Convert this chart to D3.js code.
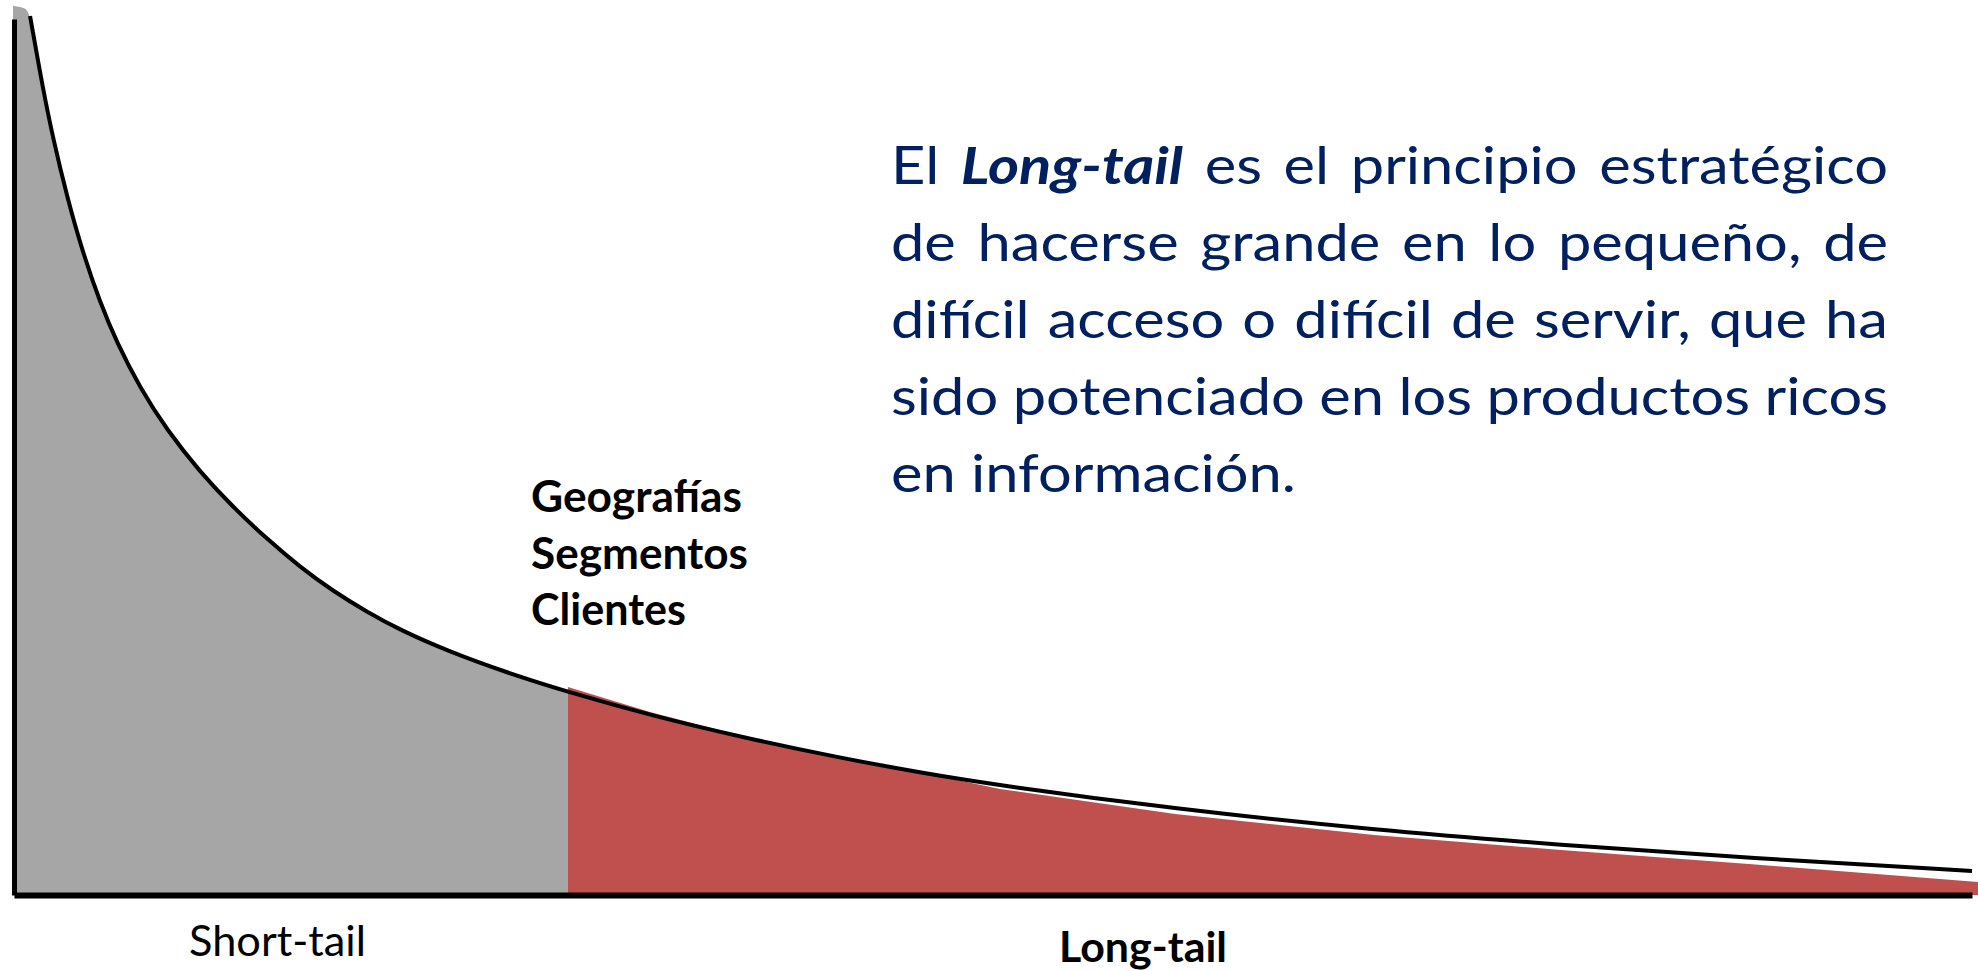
<!DOCTYPE html>
<html>
<head>
<meta charset="utf-8">
<script src="https://cdn.jsdelivr.net/npm/d3@7"></script>
<style>
html, body { margin: 0; padding: 0; background: #fff; }
svg { display: block; }
</style>
</head>
<body>
<div id="chart"></div>
<script>
// demand curve: product rank (0-100) vs sales (0-100)
var curveRank  = [0.82, 1.48, 1.99, 2.71, 3.52, 4.39, 5.26, 6.44, 7.81, 9.50, 11.18, 12.92, 14.61, 16.29, 18.03, 19.71, 22.27, 25.08, 28.29, 32.84, 37.38, 41.98, 46.53, 50.36, 59.30, 69.46, 79.01, 88.61, 100];
var curveSales = [100.34, 92.01, 86.42, 79.68, 73.29, 67.69, 63.01, 57.88, 53.08, 48.29, 44.29, 40.64, 37.44, 34.70, 32.31, 30.25, 27.74, 25.46, 23.17, 20.32, 17.92, 15.75, 13.87, 12.50, 9.82, 7.42, 5.71, 4.22, 2.74];

// grey "short-tail" fill
var shortRank  = [-0.05, 0.66, 0.82, 1.48, 1.99, 2.71, 3.52, 4.39, 5.26, 6.44, 7.81, 9.50, 11.18, 12.92, 14.61, 16.29, 18.03, 19.71, 22.27, 25.08, 28.29];
var shortSales = [101.5, 101.3, 100.34, 92.01, 86.42, 79.68, 73.29, 67.69, 63.01, 57.88, 53.08, 48.29, 44.29, 40.64, 37.44, 34.70, 32.31, 30.25, 27.74, 25.46, 23.17];

// red "long-tail" fill
var longRank  = [28.29, 32.48, 37.38, 41.98, 46.94, 50.36, 59.30, 69.46, 79.01, 88.61, 100.31];
var longSales = [23.74, 20.89, 18.04, 15.75, 13.70, 12.10, 9.25, 6.85, 5.14, 3.54, 1.48];

var tailLabels = ["Short-tail", "Long-tail"];
var segmentLabels = ["Geografías", "Segmentos", "Clientes"];
var paraLines = [
    [["El ", false], ["Long-tail", true], [" es el principio estratégico", false]],
    [["de hacerse grande en lo pequeño, de", false]],
    [["difícil acceso o difícil de servir, que ha", false]],
    [["sido potenciado en los productos ricos", false]],
    [["en información.", false]]
];

var width = 1978, height = 971;
var font = "Lato, 'Open Sans', sans-serif";

var svg = d3.select("#chart")
        .append("svg")
        .attr("width", width)
        .attr("height", height);

var x = d3.scaleLinear().domain([0, 100]).range([14, 1972]);
var y = d3.scaleLinear().domain([0, 100]).range([895, 19]);

function zip(a, b){ return a.map(function(v, i){ return [v, b[i]]; }); }

var areaSmooth = d3.area()
        .x(function(d){ return x(d[0]); })
        .y0(y(0))
        .y1(function(d){ return y(d[1]); })
        .curve(d3.curveBasis);

var areaFlat = d3.area()
        .x(function(d){ return x(d[0]); })
        .y0(y(0))
        .y1(function(d){ return y(d[1]); });

svg.append("path")
        .attr("d", areaSmooth(zip(shortRank, shortSales)))
        .attr("fill", "#a6a6a6");

svg.append("path")
        .attr("d", areaFlat(zip(longRank, longSales)))
        .attr("fill", "#c0504d");

var line = d3.line()
        .x(function(d){ return x(d[0]); })
        .y(function(d){ return y(d[1]); })
        .curve(d3.curveBasis);

svg.append("path")
        .attr("d", line(zip(curveRank, curveSales)))
        .attr("fill", "none")
        .attr("stroke", "#000")
        .attr("stroke-width", 4);

// axes: lines only, no ticks
var xAxis = svg.append("g")
        .attr("transform", "translate(0," + y(0) + ")")
        .call(d3.axisBottom(x).tickValues([]).tickSizeOuter(0));
var yAxis = svg.append("g")
        .attr("transform", "translate(" + x(0) + ",0)")
        .call(d3.axisLeft(y).tickValues([]).tickSizeOuter(0));
xAxis.select(".domain").attr("stroke", "#000").attr("stroke-width", 6);
yAxis.select(".domain").attr("stroke", "#000").attr("stroke-width", 5);

function fitText(sel, w){
    sel.attr("textLength", w).attr("lengthAdjust", "spacingAndGlyphs");
}

// tail labels
var tailPos = [[189, 956, 177, 400], [1059, 962, 168, 700]];
tailLabels.forEach(function(t, i){
    var p = tailPos[i];
    svg.append("text")
        .attr("x", p[0]).attr("y", p[1])
        .attr("font-family", font)
        .attr("font-size", 42)
        .attr("font-weight", p[3])
        .attr("fill", "#000")
        .text(t)
        .call(fitText, p[2]);
});

// segment labels
var segWidths = [211, 217, 155];
segmentLabels.forEach(function(t, i){
    svg.append("text")
        .attr("x", 531).attr("y", 512 + i * 56.5)
        .attr("font-family", font)
        .attr("font-size", 43)
        .attr("font-weight", 700)
        .attr("fill", "#000")
        .text(t)
        .call(fitText, segWidths[i]);
});

// justified paragraph, glyphs stretched horizontally like the original
var paraX = 891, paraW = 997, paraY = 184, paraStep = 77, lastW = 405;
var para = svg.append("g");
var rows = paraLines.map(function(parts, i){
    var g = para.append("g");
    var txt = g.append("text")
        .attr("font-family", font)
        .attr("font-size", 52)
        .attr("fill", "#002060")
        .style("white-space", "pre");
    parts.forEach(function(p){
        var ts = txt.append("tspan").text(p[0]);
        if (p[1]) ts.attr("font-weight", 700).attr("font-style", "italic");
    });
    return {g: g, txt: txt, parts: parts, y: paraY + i * paraStep};
});
var k = lastW / rows[rows.length - 1].txt.node().getComputedTextLength();
rows.forEach(function(r, i){
    r.g.attr("transform", "translate(" + paraX + "," + r.y + ") scale(" + k + ",1)");
    if (i < rows.length - 1) {
        var full = r.parts.map(function(p){ return p[0]; }).join("");
        var spaces = full.split(" ").length - 1;
        var natural = r.txt.node().getComputedTextLength();
        r.txt.attr("word-spacing", (paraW / k - natural) / spaces);
    }
});
</script>
</body>
</html>
